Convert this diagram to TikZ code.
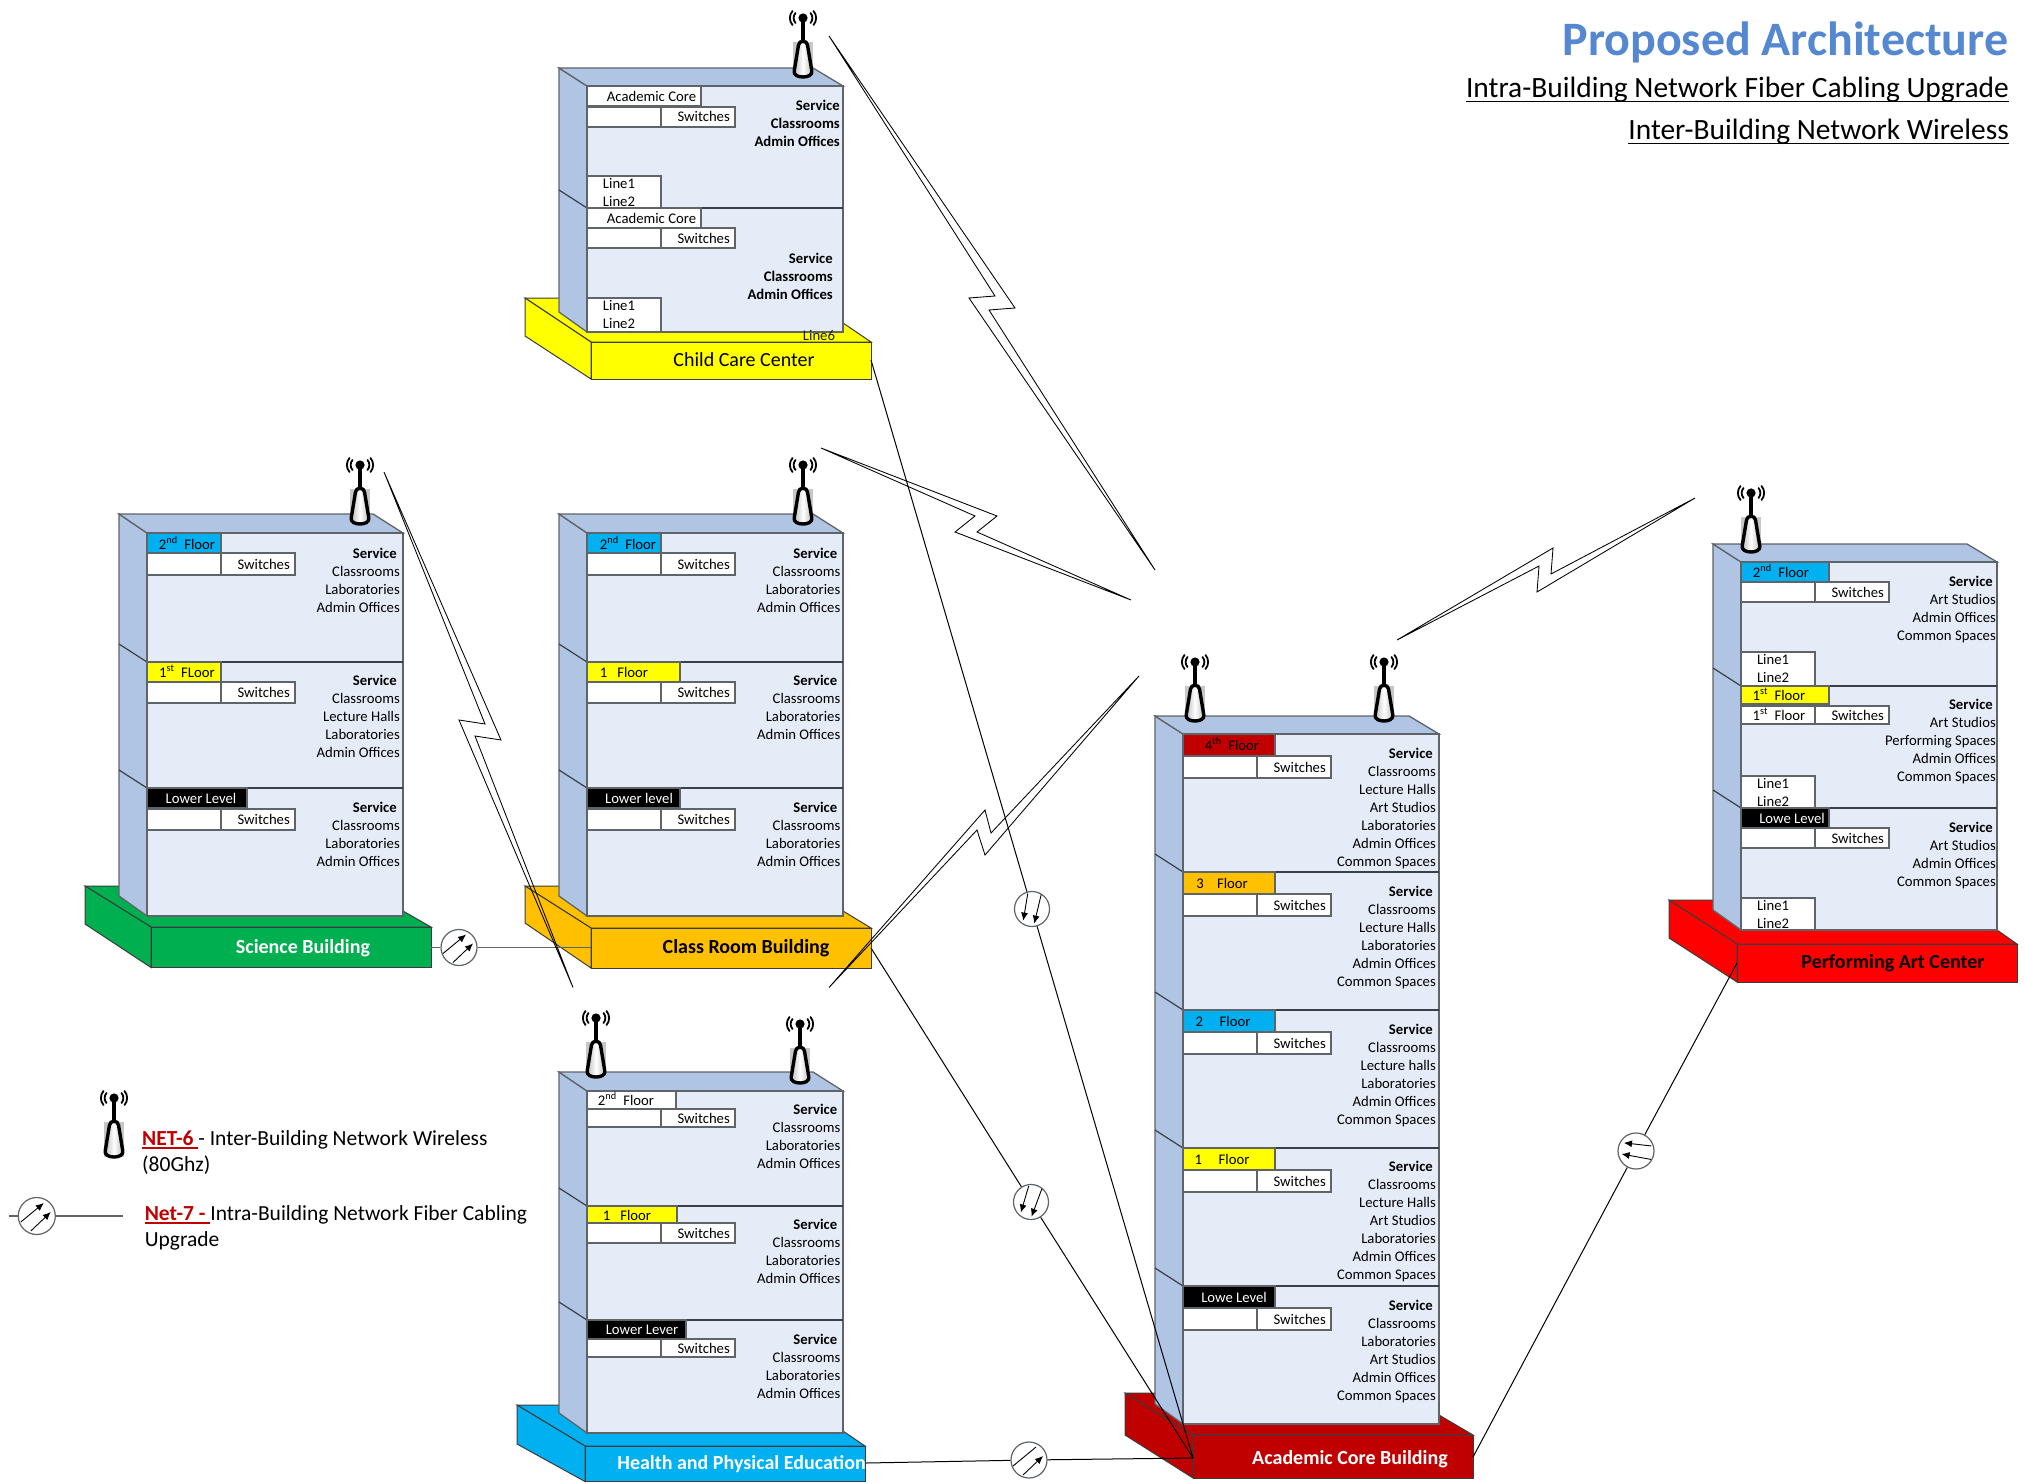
\documentclass[tikz,border=0pt]{standalone}
\usepackage{fontspec}
\usetikzlibrary{arrows.meta}
\setmainfont{Carlito}
\newlength\ulwd
\newcommand\uline[1]{\settowidth\ulwd{#1}\leavevmode\rlap{\rule[-0.14em]{\ulwd}{0.055em}}#1}
\definecolor{towerside}{HTML}{B0C4E3}
\definecolor{towerfront}{HTML}{E6ECF7}
\definecolor{edgegray}{HTML}{5F6468}
\definecolor{floorline}{HTML}{3A4048}
\definecolor{baseedge}{HTML}{3C3C3C}
\definecolor{fyellow}{HTML}{FFFF00}
\definecolor{fgreen}{HTML}{00B050}
\definecolor{forange}{HTML}{FFC000}
\definecolor{fblue}{HTML}{00B0F0}
\definecolor{fdred}{HTML}{C00000}
\definecolor{fred}{HTML}{FF0000}
\definecolor{titleblue}{HTML}{5588D0}
\definecolor{netred}{HTML}{C00000}
\tikzset{
  svcsty/.style={anchor=north east,align=right,inner sep=0pt,font=\fontsize{14.7}{18}\selectfont},
  smalltxt/.style={inner sep=0pt,text height=10pt,text depth=0pt,font=\fontsize{14.7}{18}\selectfont},
  basetxt/.style={inner sep=0pt,text height=13.6pt,text depth=0pt,font=\fontsize{20}{24}\selectfont},
  cellbox/.style={draw=edgegray,line width=1.2pt,fill=white},
  towerline/.style={draw=edgegray,line width=1.3pt},
  baseline/.style={draw=baseedge,line width=1pt},
  fibre/.style={draw=black,line width=1pt},
  fibrecircle/.style={circle,draw=edgegray,fill=white,line width=1.2pt,minimum size=36pt,inner sep=0pt},
  bolt/.style={draw=black,line width=0.85pt,line join=miter},
  arrowline/.style={draw=black,line width=0.9pt},
  arrowhead/.style={-{Latex[length=8pt,width=7pt]}},
  mast/.pic={
    \fill[black!22] (-9.7,24) rectangle (9.7,59);
    \draw[black,line width=3.4pt] (0,0) -- (0,24);
    \fill[black] (0,0) circle (4.6);
    \draw[black,line width=1.8pt,line cap=round] (-7.5,-5) .. controls (-10,-2) and (-10,2) .. (-7.5,5);
    \draw[black,line width=1.8pt,line cap=round] (7.5,-5) .. controls (10,-2) and (10,2) .. (7.5,5);
    \draw[black,line width=1.8pt,line cap=round] (-10.5,-7) .. controls (-14,-3) and (-14,3) .. (-10.5,7);
    \draw[black,line width=1.8pt,line cap=round] (10.5,-7) .. controls (14,-3) and (14,3) .. (10.5,7);
    \draw[black,line width=3.4pt,left color=black!30,right color=black!30,middle color=white,line join=round]
      (-4.5,27) .. controls (-4,22) and (4,22) .. (4.5,27) -- (8.8,53)
      .. controls (10.5,61) and (-10.5,61) .. (-8.8,53) -- cycle;
  }
}
% back x, back y, F, T, R, B, floors
\newcommand\towerbox[7]{%
  \fill[towerside,towerline] (#1,#2) -- (#3,#4) -- (#3,#6) -- (#1,#6-20) -- cycle;
  \fill[towerside,towerline] (#1,#2) -- (#5-30,#2) -- (#5,#4) -- (#3,#4) -- cycle;
  \fill[towerfront,towerline] (#3,#4) rectangle (#5,#6);
  \foreach \yy in {#7} {
    \draw[floorline,line width=1.2pt] (#3,\yy) -- (#5,\yy);
    \draw[floorline,line width=1.2pt] (#1,\yy-18) -- (#3,\yy);
  }
}
% fill, L, backY, frontX, frontY, R, bottom, leftBottom, {towerRight,backRightY}
\newcommand\basebox[9]{%
  \fill[#1,baseline] (#2,#3) -- (#6-36,#3) -- (#9) -- (#6,#5) -- (#4,#5) -- cycle;
  \fill[#1,baseline] (#2,#3) -- (#4,#5) -- (#4,#7) -- (#2,#8) -- cycle;
  \fill[#1,baseline] (#4,#5) rectangle (#6,#7);
}
% name, fill, x, y, w, h, cx, cy, text
\newcommand\flabel[9]{%
  \fill[#2,draw=edgegray,line width=1.2pt] (#3,#4) rectangle ++(#5,#6);
  \node[smalltxt] (#1) at (#7,#8) {#9};
}
% name, F, y0, y1
\newcommand\swrow[4]{%
  \draw[cellbox] (#2,#3) rectangle (#2+74,#4);
  \draw[cellbox] (#2+74,#3) rectangle (#2+148,#4);
  \node[smalltxt,anchor=east] (#1) at (#2+143,#3/2+#4/2) {Switches};
}
% name, F, y0, y1
\newcommand\linecell[4]{%
  \draw[cellbox] (#2,#3) rectangle (#2+74,#4);
  \node[anchor=north,align=center,inner sep=0pt,font=\fontsize{14.7}{18}\selectfont] (#1) at (#2+32,#3-0.6) {\strut Line1\\Line2};
}
% name, x, y of first line centre, lines
\newcommand\svc[4]{\node[svcsty] (#1) at (#2,#3-7) {\strut #4};}
\newcommand\Srv{\textbf{Service}\hspace{3pt}\mbox{}}
\newcommand\flr[3]{#1\textsuperscript{#2}#3}
% pair of arrows inside a fibre circle: x,y,rotation,first-head style
\newcommand\fibrearrows[4]{%
  \begin{scope}[shift={(#1,#2)},rotate=#3]
    \draw[arrowline,#4] (-16,6) -- (7,-13);
    \draw[arrowline,arrowhead] (-6,15) -- (14,-4);
  \end{scope}
}
\begin{document}
\begin{tikzpicture}[x=1pt,y=-1pt]
\useasboundingbox (0,0) rectangle (2025,1482);
\fill[white] (0,0) rectangle (2025,1482);

% ---------- bases
\basebox{fyellow}{525}{298}{591}{342}{871}{379}{336}{843,323}
\basebox{fgreen}{85}{886}{151}{927}{431}{967.5}{924}{403,911}
\basebox{forange}{525}{886}{591}{928}{871}{968}{923}{843,911}
\basebox{fblue}{517}{1405}{585}{1446}{865}{1481.5}{1444}{843,1431}
\basebox{fdred}{1125}{1393}{1193}{1435}{1473}{1478}{1435}{1439,1415}
\basebox{fred}{1669}{900}{1737}{944}{2017}{982}{938}{1997,930}

% ---------- towers
\towerbox{559}{68}{587}{86}{843}{332}{208}
\towerbox{119}{514}{147}{533}{403}{916}{662,788}
\towerbox{559}{514}{587}{533}{843}{916}{662,788}
\towerbox{559}{1072}{587}{1091}{843}{1433}{1206,1320}
\towerbox{1155}{716}{1183}{734}{1439}{1424}{872,1010,1148,1286}
\towerbox{1713}{544}{1741}{562}{1997}{930}{686,808}

% ---------- Child Care Center
\flabel{ccA}{white}{587}{86}{114}{20}{651.5}{97}{Academic Core}
\swrow{ccB}{587}{107}{127}
\linecell{ccC}{587}{176}{208}
\flabel{ccD}{white}{587}{208}{114}{20}{651.5}{218.5}{Academic Core}
\swrow{ccE}{587}{228}{248}
\linecell{ccF}{587}{298}{332}
\svc{ccS}{840}{105}{\textbf{Service}\\\textbf{Classrooms}\\\textbf{Admin Offices}}
\svc{ccT}{833}{258}{\textbf{Service}\\\textbf{Classrooms}\\\textbf{Admin Offices}}
\node[smalltxt,text=black!88!fyellow] (ccL) at (819,335) {Line6};
\node[basetxt] (ccN) at (744,360) {Child Care Center};

% ---------- Science Building
\flabel{scA}{fblue}{147}{533}{74}{20}{187}{544}{\flr{2}{nd}{\ \ Floor}}
\swrow{scB}{147}{553}{575}
\flabel{scC}{fyellow}{147}{662}{74}{20}{187}{672}{\flr{1}{st}{\ \ FLoor}}
\swrow{scD}{147}{682}{703}
\flabel{scE}{black}{147}{788}{100}{20}{201}{798}{\textcolor{white}{Lower Level}}
\swrow{scF}{147}{809}{830}
\svc{scS}{400}{553}{\Srv\\Classrooms\\Laboratories\\Admin Offices}
\svc{scT}{400}{680}{\Srv\\Classrooms\\Lecture Halls\\Laboratories\\Admin Offices}
\svc{scU}{400}{807}{\Srv\\Classrooms\\Laboratories\\Admin Offices}
\node[basetxt,text=white,font=\fontsize{20}{24}\selectfont\bfseries] (scN) at (303,947) {Science Building};

% ---------- Class Room Building
\flabel{crA}{fblue}{587}{533}{74}{20}{628}{544}{\flr{2}{nd}{\ \ Floor}}
\swrow{crB}{587}{553}{575}
\flabel{crC}{fyellow}{587}{662}{93}{20}{624}{672}{1\ \ \ Floor}
\swrow{crD}{587}{682}{703}
\flabel{crE}{black}{587}{788}{93}{20}{639}{798}{\textcolor{white}{Lower level}}
\swrow{crF}{587}{809}{830}
\svc{crS}{840.5}{553}{\Srv\\Classrooms\\Laboratories\\Admin Offices}
\svc{crT}{840.5}{680}{\Srv\\Classrooms\\Laboratories\\Admin Offices}
\svc{crU}{840.5}{807}{\Srv\\Classrooms\\Laboratories\\Admin Offices}
\node[basetxt,font=\fontsize{20}{24}\selectfont\bfseries] (crN) at (746,947) {Class Room Building};

% ---------- Health and Physical Education
\flabel{heA}{white}{587}{1091}{89}{19}{626}{1100}{\flr{2}{nd}{\ \ Floor}}
\swrow{heB}{587}{1109}{1127}
\flabel{heC}{fyellow}{587}{1206}{90}{18}{627}{1215}{1\ \ \ Floor}
\swrow{heD}{587}{1223}{1243}
\flabel{heE}{black}{587}{1320}{99}{19}{642}{1329}{\textcolor{white}{Lower Lever}}
\swrow{heF}{587}{1339}{1357}
\svc{heS}{840.5}{1109}{\Srv\\Classrooms\\Laboratories\\Admin Offices}
\svc{heT}{840.5}{1224}{\Srv\\Classrooms\\Laboratories\\Admin Offices}
\svc{heU}{840.5}{1339}{\Srv\\Classrooms\\Laboratories\\Admin Offices}
\node[basetxt,text=white,font=\fontsize{20}{24}\selectfont\bfseries,anchor=east] (heN) at (866,1463) {Health and Physical Education};

% ---------- Academic Core Building
\flabel{acA}{fdred}{1183}{734}{92}{22}{1232}{745}{\flr{4}{th}{\ \ Floor}}
\swrow{acB}{1183}{756}{778}
\flabel{acC}{forange}{1183}{872}{92}{22}{1222}{883}{3\ \ \ \ Floor}
\swrow{acD}{1183}{894}{916}
\flabel{acE}{fblue}{1183}{1010}{92}{22}{1223}{1021}{2\ \ \ \ \ Floor}
\swrow{acF}{1183}{1032}{1054}
\flabel{acG}{fyellow}{1183}{1148}{92}{22}{1222}{1159}{1\ \ \ \ \ Floor}
\swrow{acH}{1183}{1170}{1192}
\flabel{acI}{black}{1183}{1286}{92}{22}{1234}{1297}{\textcolor{white}{Lowe Level}}
\swrow{acJ}{1183}{1308}{1330}
\svc{acS}{1436}{753}{\Srv\\Classrooms\\Lecture Halls\\Art Studios\\Laboratories\\Admin Offices\\Common Spaces}
\svc{acT}{1436}{891}{\Srv\\Classrooms\\Lecture Halls\\Laboratories\\Admin Offices\\Common Spaces}
\svc{acU}{1436}{1029}{\Srv\\Classrooms\\Lecture halls\\Laboratories\\Admin Offices\\Common Spaces}
\svc{acV}{1436}{1166}{\Srv\\Classrooms\\Lecture Halls\\Art Studios\\Laboratories\\Admin Offices\\Common Spaces}
\svc{acW}{1436}{1305}{\Srv\\Classrooms\\Laboratories\\Art Studios\\Admin Offices\\Common Spaces}
\node[basetxt,text=white,font=\fontsize{20}{24}\selectfont\bfseries] (acN) at (1350,1458) {Academic Core Building};

% ---------- Performing Art Center
\flabel{paA}{fblue}{1741}{562}{88}{20}{1781}{572}{\flr{2}{nd}{\ \ Floor}}
\swrow{paB}{1741}{582}{602}
\linecell{paC}{1741}{652}{686}
\flabel{paD}{fyellow}{1741}{686}{88}{18}{1779}{695}{\flr{1}{st}{\ \ Floor}}
\swrow{paE}{1741}{706}{724}
\node[smalltxt] (paF) at (1779,715) {\flr{1}{st}{\ \ Floor}};
\linecell{paG}{1741}{776}{808}
\flabel{paH}{black}{1741}{808}{88}{20}{1792}{818}{\textcolor{white}{Lowe Level}}
\swrow{paI}{1741}{828}{848}
\linecell{paJ}{1741}{898}{930}
\svc{paS}{1996}{581}{\Srv\\Art Studios\\Admin Offices\\Common Spaces}
\svc{paT}{1996}{704}{\Srv\\Art Studios\\Performing Spaces\\Admin Offices\\Common Spaces}
\svc{paU}{1996}{827}{\Srv\\Art Studios\\Admin Offices\\Common Spaces}
\node[basetxt,font=\fontsize{20}{24}\selectfont\bfseries] (paN) at (1893,962) {Performing Art Center};

% ---------- antennas
\pic at (803,18) {mast};
\pic at (360,465) {mast};
\pic at (803,465) {mast};
\pic at (596,1018) {mast};
\pic at (800,1024) {mast};
\pic at (1195,662) {mast};
\pic at (1384,662) {mast};
\pic at (1751,493) {mast};
\pic at (114,1098) {mast};

% ---------- connector ends
\coordinate (childR) at (871,360);
\coordinate (classR) at (871,948);
\coordinate (classL) at (591,947.5);
\coordinate (scienceR) at (431,947.5);
\coordinate (healthR) at (866,1463);
\coordinate (acadL) at (1193,1458);
\coordinate (acadR) at (1473,1457);
\coordinate (perfL) at (1737,963);
\coordinate (legA) at (8.6,1216);
\coordinate (legB) at (123,1216);

% ---------- fibre symbols
\node[fibrecircle,minimum size=35pt] (fibA) at (1032,909) {};
\node[fibrecircle,minimum size=35pt] (fibB) at (1031,1202) {};
\node[fibrecircle] (fibC) at (1029,1460) {};
\node[fibrecircle] (fibD) at (1636,1151) {};
\node[fibrecircle] (fibE) at (459,947.5) {};
\node[fibrecircle,minimum size=37pt] (fibL) at (36.8,1216) {};

\draw[fibre] (childR) -- (fibA) -- (acadL);
\draw[fibre] (classR) -- (fibB) -- (acadL);
\draw[fibre] (healthR) -- (fibC) -- (acadL);
\draw[fibre] (perfL) -- (fibD) -- (acadR);
\draw[fibre,draw=edgegray,line width=1.2pt] (scienceR) -- (fibE) -- (classL);
\draw[fibre,draw=edgegray,line width=1.2pt] (legA) -- (fibL) -- (legB);

\fibrearrows{1032}{909}{-143}{arrowhead}
\fibrearrows{1031}{1202}{-150}{arrowhead}
\fibrearrows{1029}{1460}{0}{}
\fibrearrows{1636}{1151}{130}{arrowhead}
\fibrearrows{459}{947.5}{0}{arrowhead}
\fibrearrows{36.8}{1216}{0}{arrowhead}

% ---------- wireless bolts
\draw[bolt] (829,36) -- (1015,308) -- (989,310) -- (1155,570) -- (969,298) -- (995,296) -- cycle;
\draw[bolt] (821,448) -- (997,516) -- (977,532) -- (1131,600) -- (955,532) -- (975,516) -- cycle;
\draw[bolt] (1139,676) -- (991,833) -- (985,810) -- (829,987.5) -- (977,830) -- (985,855) -- cycle;
\draw[bolt] (1397,640) -- (1553,548) -- (1551,574) -- (1695,498) -- (1537,592) -- (1539,566) -- cycle;
\draw[bolt] (384,472) -- (501,740) -- (475,736) -- (573,987.5) -- (459,720) -- (485,724) -- cycle;

% ---------- legend
\node[anchor=north west,align=left,inner sep=0pt,font=\fontsize{21.5}{25.5}\selectfont] (legNet) at (142,1127.5)
  {\strut\textcolor{netred}{\textbf{\uline{NET-6~}}}- Inter-Building Network Wireless\\(80Ghz)};
\node[anchor=north west,align=left,inner sep=0pt,font=\fontsize{21.5}{25.5}\selectfont] (legFib) at (144.6,1202.5)
  {\strut\textcolor{netred}{\textbf{\uline{Net-7 -~}}}Intra-Building Network Fiber Cabling\\Upgrade};

% ---------- title
\node[anchor=east,inner sep=0pt,text height=32pt,text depth=0pt,text=titleblue,font=\fontsize{48}{56}\selectfont\bfseries] (titleA) at (2008.5,40) {Proposed Architecture};
\node[anchor=east,inner sep=0pt,text height=20pt,text depth=0pt,font=\fontsize{29.45}{35}\selectfont] (titleB) at (2009,88) {\uline{Intra-Building Network Fiber Cabling Upgrade}};
\node[anchor=east,inner sep=0pt,text height=20pt,text depth=0pt,font=\fontsize{29.45}{35}\selectfont] (titleC) at (2009,130) {\uline{Inter-Building Network Wireless}};
\end{tikzpicture}
\end{document}
